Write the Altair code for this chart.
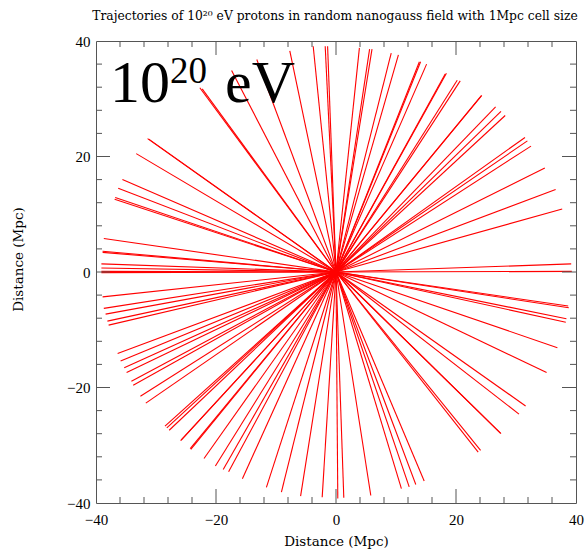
import altair as alt
import pandas as pd

# End points (Mpc) of the straight proton trajectories, all starting at the origin
end_x = [
    # upper-left
    -7.7, -3.8, -1.8, -1.4, -13.2, -17.4, -22.7, -22.3, -31.4, -31.2, -33.3,
    -35.6, -36.3, -36.8, -36.9, -38.7, -38.9, -38.9, -39.1, -39.1, -39.1, -39.1,
    # upper-right
    3.9, 5.6, 6.0, 9.2, 10.4, 13.9, 14.1, 15.1, 18.4, 18.2, 20.2, 20.7, 24.3,
    24.2, 26.6, 27.5, 28.2, 31.5, 31.9, 32.5, 34.8, 36.6, 37.7, 39.2, 39.3,
    # lower-left
    -38.9, -38.7, -38.4, -38.1, -37.9, -36.4, -35.9, -35.3, -34.9, -34.1, -33.8,
    -32.6, -31.7, -28.5, -28.2, -27.8, -25.9, -25.8, -24.3, -24.2, -22.0, -20.1,
    -18.8, -17.9, -15.6, -11.6, -9.1, -5.9, -2.3,
    # lower-right
    0.3, 1.3, 5.8, 10.9, 12.2, 13.3, 14.7, 23.7, 24.1, 27.5, 27.4, 30.5, 31.6,
    35.1, 36.9, 38.3, 38.4, 38.7, 38.8,
]
end_y = [
    38.3, 39.1, 39.1, 39.1, 36.8, 34.9, 31.9, 31.7, 23.1, 23.0, 20.5,
    16.0, 14.5, 12.9, 12.6, 5.8, 3.6, 3.4, 1.4, 0.7, -0.1, 0.1,
    38.8, 38.6, 38.6, 37.9, 37.6, 36.4, 36.4, 36.0, 34.4, 34.3, 33.2, 33.1, 30.6,
    30.5, 28.6, 27.8, 27.1, 23.3, 22.7, 21.8, 18.0, 14.3, 10.9, 1.4, 0.1,
    -4.3, -6.3, -7.3, -8.5, -9.2, -14.1, -15.4, -16.6, -17.4, -18.9, -19.6,
    -21.5, -22.7, -26.7, -27.0, -27.4, -29.2, -29.1, -30.6, -30.7, -32.3, -33.6,
    -34.2, -34.6, -35.8, -37.3, -38.1, -38.8, -39.0,
    -39.2, -39.1, -38.7, -37.5, -37.2, -36.8, -36.2, -31.2, -30.9, -28.0, -27.9, -24.6, -23.2,
    -17.4, -13.1, -8.7, -8.1, -5.9, -6.2,
]

label_values = [-40, -20, 0, 20, 40]
major_ticks = [-20, 0, 20]
minor_ticks = [-36, -32, -28, -24, -16, -12, -8, -4, 4, 8, 12, 16, 24, 28, 32, 36]

title_text = "Trajectories of 10\u00b2\u2070 eV protons in random nanogauss field with 1Mpc cell size"
axis_title = "Distance (Mpc)"
big_label = ["10", "20", "eV"]

W, H = 480, 462
FRAME = "#555555"
LABEL_FONT = "Liberation Serif"
TITLE_FONT = "DejaVu Serif"

df = pd.DataFrame({"x": end_x, "y": end_y})
df["x0"] = 0.0
df["y0"] = 0.0

xs = alt.Scale(domain=[-40, 40], nice=False, zero=False)
ys = alt.Scale(domain=[-40, 40], nice=False, zero=False)

x_axis = alt.Axis(values=label_values, title=axis_title, grid=False, ticks=False, tickSize=0,
                  domain=False, labelFont=LABEL_FONT, labelFontSize=15, labelColor="black",
                  labelPadding=9, titleFont=TITLE_FONT, titleFontSize=13.5, titleFontWeight="normal",
                  titleColor="black", titleBaseline="top", titleY=31, labelFlush=False)
y_axis = alt.Axis(values=label_values, title=axis_title, grid=False, ticks=False, tickSize=0,
                  domain=False, labelFont=LABEL_FONT, labelFontSize=15, labelColor="black",
                  labelPadding=6, titleFont=TITLE_FONT, titleFontSize=13.5, titleFontWeight="normal",
                  titleColor="black", titleX=-78, titleY=218, titleAlign="center",
                  titleBaseline="middle", titleAngle=-90, labelFlush=False)

lines = alt.Chart(df).mark_rule(color="#ff0000", strokeWidth=1.1).encode(
    x=alt.X("x0:Q", scale=xs, axis=x_axis),
    y=alt.Y("y0:Q", scale=ys, axis=y_axis),
    x2="x:Q",
    y2="y:Q",
)

major_df = pd.DataFrame({"v": major_ticks})
minor_df = pd.DataFrame({"v": minor_ticks})


def tick_layers(data, length):
    base = alt.Chart(data).mark_rule(color=FRAME, strokeWidth=1)
    return [
        base.encode(x=alt.X("v:Q", scale=xs, axis=x_axis), y=alt.value(H), y2=alt.value(H - length)),
        base.encode(x=alt.X("v:Q", scale=xs, axis=x_axis), y=alt.value(0.5), y2=alt.value(length)),
        base.encode(y=alt.Y("v:Q", scale=ys, axis=y_axis), x=alt.value(0.5), x2=alt.value(length)),
        base.encode(y=alt.Y("v:Q", scale=ys, axis=y_axis), x=alt.value(W), x2=alt.value(W - length)),
    ]


lab10 = alt.Chart(pd.DataFrame({"t": [big_label[0]]})).mark_text(
    font=LABEL_FONT, fontSize=60, align="left", baseline="alphabetic", color="black"
).encode(text="t:N", x=alt.value(14), y=alt.value(61))
lab20 = alt.Chart(pd.DataFrame({"t": [big_label[1]]})).mark_text(
    font=LABEL_FONT, fontSize=37, align="left", baseline="alphabetic", color="black"
).encode(text="t:N", x=alt.value(74), y=alt.value(42))
labeV = alt.Chart(pd.DataFrame({"t": [big_label[2]]})).mark_text(
    font=LABEL_FONT, fontSize=60, align="left", baseline="alphabetic", color="black"
).encode(text="t:N", x=alt.value(129), y=alt.value(61))

title = alt.Chart(pd.DataFrame({"t": [title_text]})).mark_text(
    font=TITLE_FONT, fontSize=12.3, align="center", baseline="alphabetic", color="black"
).encode(text="t:N", x=alt.value(W / 2 - 1), y=alt.value(-21))

chart = alt.layer(
    lines, *tick_layers(minor_df, 6), *tick_layers(major_df, 14), lab10, lab20, labeV, title
).properties(
    width=W,
    height=H,
    autosize=alt.AutoSizeParams(type="none"),
    padding={"left": 96, "top": 41, "right": 10, "bottom": 48},
).configure_view(stroke=FRAME, strokeWidth=1)

chart.save("out.html", embed_options={"renderer": "svg", "actions": False})
